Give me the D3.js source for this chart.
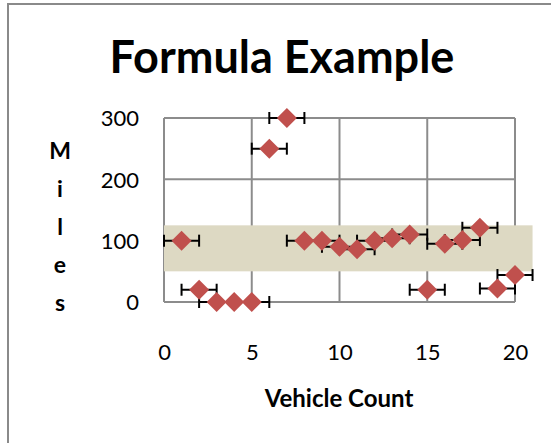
<!DOCTYPE html>
<html><head><meta charset="utf-8">
<script src="https://cdn.jsdelivr.net/npm/d3@7"></script>
<style>body{margin:0;background:#fff}svg{display:block}</style>
</head><body>
<script>
const xValues = [1,2,3,4,5,6,7,8,9,10,11,12,13,14,15,16,17,18,19,20];
const yValues = [100,20,0,0,0,250,300,100,100,90,86,100,104,110,20,95,101,121,22,44];
const xError = 1;
const bandX = [0, 21];
const bandY = [50, 125];
const xTicks = [0,5,10,15,20];
const yTicks = [0,100,200,300];
const title = "Formula Example";
const xTitle = "Vehicle Count";
const yTitle = ["M","i","l","e","s"];

const W = 551, H = 443;
const svg = d3.select("body").append("svg").attr("width", W).attr("height", H);
const font = "Lato, 'Open Sans', sans-serif";

// outer chart border
svg.append("rect").attr("x", 8).attr("y", 4).attr("width", 600).attr("height", 600)
  .attr("fill", "none").attr("stroke", "#8a8a8a").attr("stroke-width", 2);

const x = d3.scaleLinear().domain([0, 20]).range([164, 515]);
const y = d3.scaleLinear().domain([0, 300]).range([302, 118]);

const grid = "#8c8c8c";
svg.append("g").selectAll("line").data(xTicks).join("line")
  .attr("x1", d => x(d)).attr("x2", d => x(d)).attr("y1", y(0)).attr("y2", y(300))
  .attr("stroke", grid).attr("stroke-width", 2);
svg.append("g").selectAll("line").data(yTicks).join("line")
  .attr("x1", x(0)).attr("x2", x(20)).attr("y1", d => y(d)).attr("y2", d => y(d))
  .attr("stroke", grid).attr("stroke-width", 2);

// band
svg.append("rect").attr("x", x(bandX[0])).attr("width", x(bandX[1]) - x(bandX[0]))
  .attr("y", y(bandY[1])).attr("height", y(bandY[0]) - y(bandY[1]))
  .attr("fill", "#DDD9C3");

// axes (tick labels only)
const xAxis = svg.append("g").attr("transform", `translate(0,${y(0)})`)
  .call(d3.axisBottom(x).tickValues(xTicks).tickSize(0).tickPadding(40));
const yAxis = svg.append("g").attr("transform", `translate(${x(0)},0)`)
  .call(d3.axisLeft(y).tickValues(yTicks).tickSize(0).tickPadding(25));
[xAxis, yAxis].forEach(a => {
  a.select(".domain").remove();
  a.selectAll("text").attr("font-family", font).attr("font-size", 22).attr("fill", "#000");
});
xAxis.selectAll("text").attr("dy", "0").attr("y", 58);
yAxis.selectAll("text").attr("dy", "0.36em");

// error bars
const eb = svg.append("g").attr("stroke", "#000").attr("stroke-width", 2);
xValues.forEach((xv, i) => {
  const yy = y(yValues[i]);
  eb.append("line").attr("x1", x(xv - xError)).attr("x2", x(xv + xError)).attr("y1", yy).attr("y2", yy);
  eb.append("line").attr("x1", x(xv - xError)).attr("x2", x(xv - xError)).attr("y1", yy - 6).attr("y2", yy + 6);
  eb.append("line").attr("x1", x(xv + xError)).attr("x2", x(xv + xError)).attr("y1", yy - 6).attr("y2", yy + 6);
});

// diamonds
svg.append("g").selectAll("path").data(xValues).join("path")
  .attr("d", (d, i) => {
    const cx = x(d), cy = y(yValues[i]), r = 10;
    return `M${cx},${cy - r}L${cx + r},${cy}L${cx},${cy + r}L${cx - r},${cy}Z`;
  })
  .attr("fill", "#C0504D");

// titles
svg.append("text").attr("x", 282).attr("y", 73).attr("text-anchor", "middle")
  .attr("font-family", font).attr("font-weight", "bold").attr("font-size", 45).text(title);
svg.append("text").attr("x", 339).attr("y", 407).attr("text-anchor", "middle")
  .attr("font-family", font).attr("font-weight", "bold").attr("font-size", 24).text(xTitle);
svg.append("g").selectAll("text").data(yTitle).join("text")
  .attr("x", 60).attr("y", (d, i) => 159 + i * 38).attr("text-anchor", "middle")
  .attr("font-family", font).attr("font-weight", "bold").attr("font-size", 23).text(d => d);
</script>
</body></html>
